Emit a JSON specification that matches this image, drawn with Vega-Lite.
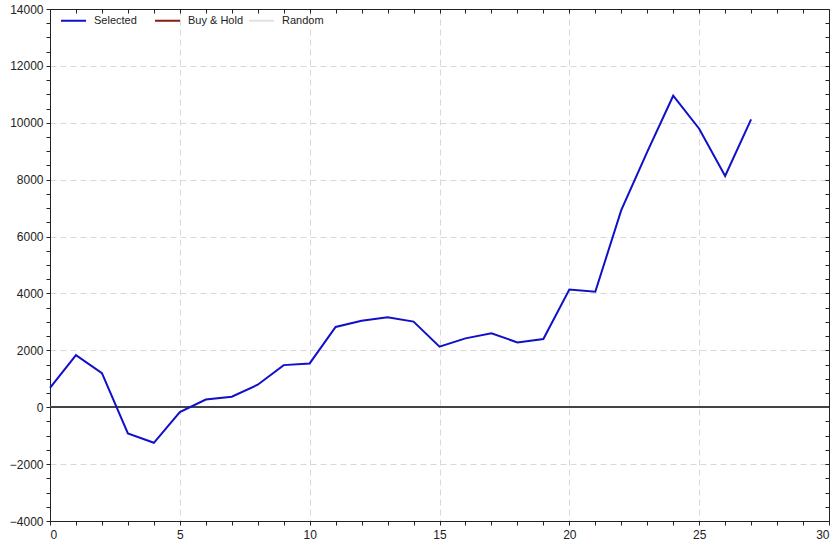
{
  "$schema": "https://vega.github.io/schema/vega-lite/v6.json",
  "width": 779,
  "height": 512,
  "autosize": {"type": "none"},
  "padding": {"left": 50, "top": 9, "right": 10, "bottom": 23},
  "background": "white",
  "config": {
    "view": {"stroke": null},
    "font": "Liberation Sans",
    "axis": {"labelFont": "Liberation Sans", "labelFontSize": 12, "labelColor": "#222", "domainColor": "#222", "tickColor": "#222", "gridDash": [6, 4], "titleFontSize": 0}
  },
  "datasets": {
    "series": [
      {"x": 0, "value": 680, "series": "Selected"},
      {"x": 1, "value": 1830, "series": "Selected"},
      {"x": 2, "value": 1200, "series": "Selected"},
      {"x": 3, "value": -920, "series": "Selected"},
      {"x": 4, "value": -1250, "series": "Selected"},
      {"x": 5, "value": -170, "series": "Selected"},
      {"x": 6, "value": 270, "series": "Selected"},
      {"x": 7, "value": 370, "series": "Selected"},
      {"x": 8, "value": 790, "series": "Selected"},
      {"x": 9, "value": 1480, "series": "Selected"},
      {"x": 10, "value": 1540, "series": "Selected"},
      {"x": 11, "value": 2820, "series": "Selected"},
      {"x": 12, "value": 3040, "series": "Selected"},
      {"x": 13, "value": 3160, "series": "Selected"},
      {"x": 14, "value": 3010, "series": "Selected"},
      {"x": 15, "value": 2130, "series": "Selected"},
      {"x": 16, "value": 2420, "series": "Selected"},
      {"x": 17, "value": 2600, "series": "Selected"},
      {"x": 18, "value": 2280, "series": "Selected"},
      {"x": 19, "value": 2400, "series": "Selected"},
      {"x": 20, "value": 4140, "series": "Selected"},
      {"x": 21, "value": 4060, "series": "Selected"},
      {"x": 22, "value": 6930, "series": "Selected"},
      {"x": 23, "value": 8980, "series": "Selected"},
      {"x": 24, "value": 10950, "series": "Selected"},
      {"x": 25, "value": 9790, "series": "Selected"},
      {"x": 26, "value": 8130, "series": "Selected"},
      {"x": 27, "value": 10120, "series": "Selected"}
    ]
  },
  "resolve": {"axis": {"x": "independent", "y": "independent"}},
  "layer": [
    {
      "data": {"name": "series"},
      "mark": {"type": "rule", "color": "#444", "strokeWidth": 1},
      "encoding": {
        "y": {"datum": 0, "type": "quantitative",
          "scale": {"domain": [-4000, 14000], "nice": false, "zero": false},
          "axis": {"orient": "right", "labels": false, "grid": false, "tickSize": -4, "values": [-4000,-3500,-3000,-2500,-2000,-1500,-1000,-500,0,500,1000,1500,2000,2500,3000,3500,4000,4500,5000,5500,6000,6500,7000,7500,8000,8500,9000,9500,10000,10500,11000,11500,12000,12500,13000,13500,14000], "title": null}
        },
        "x": {"datum": 0, "type": "quantitative",
          "scale": {"domain": [0, 30], "nice": false},
          "axis": {"orient": "top", "labels": false, "grid": false, "tickSize": -4, "values": [0,1,2,3,4,5,6,7,8,9,10,11,12,13,14,15,16,17,18,19,20,21,22,23,24,25,26,27,28,29,30], "title": null}
        },
        "x2": {"datum": 30}
      }
    },
    {
      "data": {"name": "series"},
      "mark": {"type": "line", "strokeWidth": 2},
      "encoding": {
        "x": {"field": "x", "type": "quantitative",
          "scale": {"domain": [0, 30], "nice": false},
          "axis": {"orient": "bottom", "title": null, "tickSize": 4, "labelPadding": 4, "grid": true,
            "values": [0,1,2,3,4,5,6,7,8,9,10,11,12,13,14,15,16,17,18,19,20,21,22,23,24,25,26,27,28,29,30],
            "labelExpr": "datum.value % 5 === 0 ? datum.label : ''",
            "gridColor": {"condition": {"test": "datum.value % 5 === 0 && datum.value > 0 && datum.value < 30", "value": "#d8d8d8"}, "value": "transparent"}}
        },
        "y": {"field": "value", "type": "quantitative",
          "scale": {"domain": [-4000, 14000], "nice": false, "zero": false},
          "axis": {"orient": "left", "title": null, "tickSize": 4, "labelPadding": 3, "grid": true,
            "values": [-4000,-3500,-3000,-2500,-2000,-1500,-1000,-500,0,500,1000,1500,2000,2500,3000,3500,4000,4500,5000,5500,6000,6500,7000,7500,8000,8500,9000,9500,10000,10500,11000,11500,12000,12500,13000,13500,14000],
            "labelExpr": "datum.value % 2000 === 0 ? datum.label : ''",
            "format": "d",
            "gridColor": {"condition": {"test": "datum.value % 2000 === 0 && datum.value > -4000 && datum.value < 14000", "value": "#d8d8d8"}, "value": "transparent"}}
        },
        "color": {"field": "series", "type": "nominal",
          "scale": {"domain": ["Selected", "Buy & Hold", "Random"], "range": ["#1010c8", "#8b1a10", "#e0e0e0"]},
          "legend": {"orient": "none", "legendX": 8, "legendY": -4, "direction": "horizontal", "columns": 3, "gridAlign": "all", "columnPadding": 1, "symbolType": "stroke", "symbolSize": 625, "symbolStrokeWidth": 2, "labelFontSize": 11, "labelFont": "Liberation Sans", "labelColor": "#222", "labelOffset": 7, "title": null, "padding": 2}
        }
      }
    }
  ]
}
